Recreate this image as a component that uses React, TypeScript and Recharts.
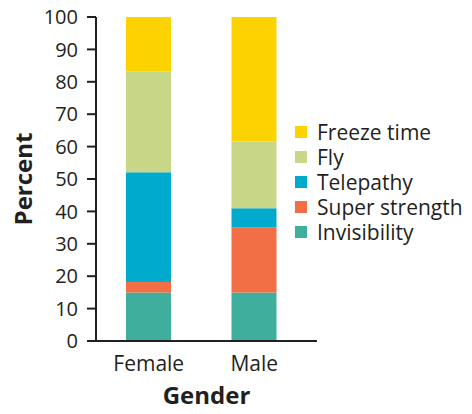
import { BarChart, Bar, XAxis, YAxis } from 'recharts'

const genders = ['Female', 'Male']
const invisibility = [15, 15]
const superStrength = [3.2, 20.1]
const telepathy = [33.9, 5.9]
const fly = [31.1, 20.6]
const freezeTime = [16.8, 38.4]
const yTicks = [0, 10, 20, 30, 40, 50, 60, 70, 80, 90, 100]

// stacking order bottom -> top
const series = [
  { key: 'Invisibility', values: invisibility, color: '#3fae9c' },
  { key: 'Super strength', values: superStrength, color: '#f26e45' },
  { key: 'Telepathy', values: telepathy, color: '#00aacd' },
  { key: 'Fly', values: fly, color: '#c8d687' },
  { key: 'Freeze time', values: freezeTime, color: '#fdd201' },
]

const data = genders.map((g, i) => {
  const row: Record<string, string | number> = { gender: g }
  series.forEach((s) => {
    row[s.key] = s.values[i]
  })
  return row
})

const FONT = '"Open Sans", sans-serif'
const INK = '#231f20'

function LegendBox() {
  return (
    <div
      style={{
        position: 'absolute',
        left: 295,
        top: 120,
        fontFamily: FONT,
        fontSize: 21,
        color: INK,
      }}
    >
      {[...series].reverse().map((s) => (
        <div key={s.key} style={{ display: 'flex', alignItems: 'center', height: 24.8 }}>
          <span style={{ width: 12, height: 12, background: s.color, marginRight: 10 }} />
          <span style={{ lineHeight: '22px', whiteSpace: 'nowrap' }}>{s.key}</span>
        </div>
      ))}
    </div>
  )
}

function YTitle({ viewBox }: any) {
  const cx = viewBox.x + 22
  const cy = viewBox.y + viewBox.height / 2
  return (
    <text
      x={cx}
      y={cy}
      transform={`rotate(-90, ${cx}, ${cy})`}
      textAnchor="middle"
      dominantBaseline="central"
      fontFamily={FONT}
      fontWeight={700}
      fontSize={24}
      fill={INK}
    >
      Percent
    </text>
  )
}

export default function App() {
  return (
    <div style={{ position: 'absolute', left: 0, top: 0, width: 472, height: 414, background: '#fff' }}>
      <BarChart
        width={472}
        height={414}
        data={data}
        margin={{ top: 17, right: 155, bottom: 0, left: 0 }}
      >
        <XAxis
          dataKey="gender"
          height={73}
          padding={{ left: 0, right: 10 }}
          tickLine={false}
          axisLine={{ stroke: INK, strokeWidth: 2 }}
          tick={{ fill: INK, fontSize: 21, fontFamily: FONT }}
          tickMargin={9}
          label={{
            value: 'Gender',
            position: 'insideBottom',
            offset: 10,
            fill: INK,
            fontSize: 24,
            fontWeight: 700,
            fontFamily: FONT,
          }}
        />
        <YAxis
          width={96}
          domain={[0, 100]}
          ticks={yTicks}
          interval={0}
          tickSize={9}
          tickMargin={9}
          axisLine={{ stroke: INK, strokeWidth: 2 }}
          tickLine={{ stroke: INK, strokeWidth: 2 }}
          tick={{ fill: INK, fontSize: 20, fontFamily: FONT }}
          label={{ content: YTitle }}
        />
        {series.map((s) => (
          <Bar
            key={s.key}
            dataKey={s.key}
            stackId="a"
            fill={s.color}
            barSize={45}
            isAnimationActive={false}
          />
        ))}
      </BarChart>
      <LegendBox />
    </div>
  )
}
